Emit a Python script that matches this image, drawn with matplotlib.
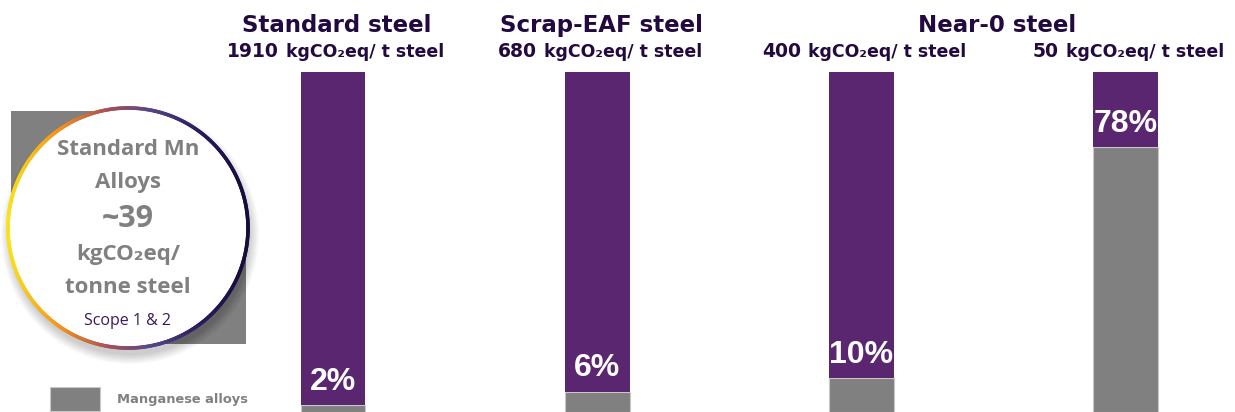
import numpy as np
import matplotlib
matplotlib.use("Agg")
import matplotlib.pyplot as plt
from matplotlib.patches import Circle, Rectangle
from matplotlib.collections import LineCollection
from matplotlib.colors import LinearSegmentedColormap
from matplotlib.offsetbox import TextArea, HPacker, AnnotationBbox

# data
groups = ["Standard steel", "Scrap-EAF steel", "Near-0 steel"]
group_bars = [[0], [1], [2, 3]]              # which bars sit under each heading
intensity = [1910, 680, 400, 50]             # kgCO2eq / t steel
mn_share = [2, 6, 10, 78]                    # % of footprint from Mn alloys
unit_label = "kgCO\u2082eq/ t steel"
legend_label = "Manganese alloys"
circle_lines = ["Standard Mn", "Alloys", "~39", "kgCO\u2082eq/", "tonne steel", "Scope 1 & 2"]

PURPLE = "#59266f"
GRAY = "#808080"
DARK = "#22093f"

W, H = 1235, 412
fig = plt.figure(figsize=(W / 100, H / 100), dpi=100)

# main axes: one unit of x = bar spacing, 100% = 340 px
step, x0 = 264.2, 333
ax = fig.add_axes([0, 0, 1, 1])
ax.set_xlim(-x0 / step, (W - x0) / step)
ax.set_ylim(0, H / 3.4)
ax.axis("off")

x = np.arange(len(mn_share))
share = np.array(mn_share)
mn_bars = ax.bar(x, share, width=0.246, color=GRAY, edgecolor="#c8c8c8", linewidth=0.8)
ax.bar(x, 100 - share, bottom=share, width=0.246, color=PURPLE, linewidth=0)

# percentage labels just above the grey part
for i, s in enumerate(mn_share):
    ax.annotate(f"{s}%", xy=(i, s), xytext=(0, 11), textcoords="offset points",
                ha="center", va="baseline", color="white", fontsize=23, fontweight="bold",
                family="Liberation Sans")

# group headings
for g, idx in zip(groups, group_bars):
    ax.text(np.mean(idx) + 0.015, 1 - 32 / H, g, transform=ax.get_xaxis_transform(),
            ha="center", va="baseline", fontsize=16.5, fontweight="bold",
            color=DARK, family="DejaVu Sans")

# intensity line under each heading: big number + smaller unit
for i, v in enumerate(intensity):
    num = TextArea(str(v), textprops=dict(fontsize=13.5, fontweight="bold", color=DARK,
                                          family="DejaVu Sans"))
    unit = TextArea(unit_label, textprops=dict(fontsize=12.5, fontweight="bold", color=DARK,
                                               family="DejaVu Sans"))
    pack = HPacker(children=[num, unit], align="baseline", pad=0, sep=5)
    ab = AnnotationBbox(pack, (i + 0.01, 1 - 61 / H), xycoords=ax.get_xaxis_transform(),
                        box_alignment=(0.5, 0), frameon=False, pad=0)
    ax.add_artist(ab)

ax.legend(handles=[mn_bars], labels=[legend_label], loc="upper left",
          bbox_to_anchor=(50 / W, 1 - 387 / H), bbox_transform=fig.transFigure,
          frameon=False, borderpad=0, borderaxespad=0, handlelength=3.8,
          handleheight=2.45, handletextpad=1.35, labelcolor=GRAY,
          prop=dict(family="DejaVu Sans", weight="bold", size=9.4))

# overlay in pixel space for the round badge
deco = fig.add_axes([0, 0, 1, 1])
deco.set_xlim(0, W)
deco.set_ylim(H, 0)
deco.axis("off")
deco.patch.set_alpha(0)

cx, cy, r = 128, 228, 120
deco.add_patch(Rectangle((11, 111), cx - 11, cy - 111, color=GRAY, lw=0))
deco.add_patch(Rectangle((cx, cy), 246 - cx, 344 - cy, color=GRAY, lw=0))
# soft shadow
for k in range(10):
    deco.add_patch(Circle((cx + 2, cy + 7), r + k, color="black", alpha=0.018, lw=0))
deco.add_patch(Circle((cx, cy), r, color="white", lw=0))

ring = LinearSegmentedColormap.from_list(
    "ring", [(0, "#f8e21a"), (0.22, "#f5901e"), (0.42, "#a4505a"),
             (0.6, "#544788"), (0.8, "#2b1a5e"), (1, "#160b3a")])
t = np.linspace(0, 2 * np.pi, 500)
px, py = cx + r * np.cos(t), cy + r * np.sin(t)
pts = np.column_stack([px, py]).reshape(-1, 1, 2)
segs = np.concatenate([pts[:-1], pts[1:]], axis=1)
lc = LineCollection(segs, colors=ring((np.cos(t[:-1]) + 1) / 2), linewidths=2.6,
                    capstyle="round")
deco.add_collection(lc)

circle_y = [155, 188, 227, 260, 293, 325]
circle_size = [16, 16, 22, 16, 16, 11.5]
for s, yy, fs in zip(circle_lines, circle_y, circle_size):
    is_scope = s.startswith("Scope")
    deco.text(cx, yy, s, ha="center", va="baseline", fontsize=fs,
              fontweight="normal" if is_scope else "bold",
              color="#3a1a5c" if is_scope else GRAY,
              family=["Open Sans", "DejaVu Sans"])

fig.savefig("out.png", dpi=100)
